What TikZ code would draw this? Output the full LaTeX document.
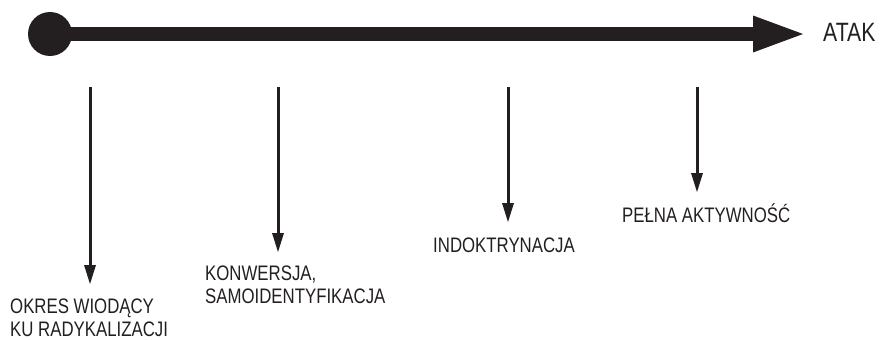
\documentclass[tikz,border=0pt]{standalone}
\usepackage{fontspec}
\setmainfont[FakeStretch=0.8]{Liberation Sans}
\usetikzlibrary{arrows.meta}
\definecolor{ink}{HTML}{231F20}
\tikzset{
  stage/.style={anchor=base west, inner sep=0pt, align=left, text=ink,
    font=\fontsize{21pt}{23pt}\selectfont},
  drop/.style={draw=ink, line width=3pt,
    -{Triangle[length=19pt 0 0, width=12pt 0 0, line width=0pt]}},
}
\begin{document}
\begin{tikzpicture}[x=1pt, y=-1pt]
  \useasboundingbox (0,0) rectangle (881,340);

  % main time axis
  \node[circle, fill=ink, minimum size=44pt, inner sep=0pt] (start) at (50,34) {};
  \coordinate (end) at (803,34);
  \draw[ink, line width=14pt,
    -{Triangle[length=50pt 0 0, width=37pt 0 0, line width=0pt]}] (start.center) -- (end);
  \node[anchor=base west, inner sep=0pt, text=ink,
    font=\fontsize{26.5pt}{30pt}\selectfont] (atak) at (823,41) {ATAK};

  % stages
  \coordinate (t1) at (90,87);  \coordinate (h1) at (90,284);
  \coordinate (t2) at (278,87); \coordinate (h2) at (278,252);
  \coordinate (t3) at (508,87); \coordinate (h3) at (508,222);
  \coordinate (t4) at (697,87); \coordinate (h4) at (697,192);
  \draw[drop] (t1) -- (h1);
  \draw[drop] (t2) -- (h2);
  \draw[drop] (t3) -- (h3);
  \draw[drop] (t4) -- (h4);

  % labels (a multi-line node sits on the baseline of its last line)
  \node[stage] (s1) at (10,336) {OKRES WIODĄCY\\KU RADYKALIZACJI};
  \node[stage] (s2) at (205,303) {KONWERSJA,\\SAMOIDENTYFIKACJA};
  \node[stage] (s3) at (433,252) {INDOKTRYNACJA};
  \node[stage] (s4) at (622,222) {PEŁNA AKTYWNOŚĆ};
\end{tikzpicture}
\end{document}
